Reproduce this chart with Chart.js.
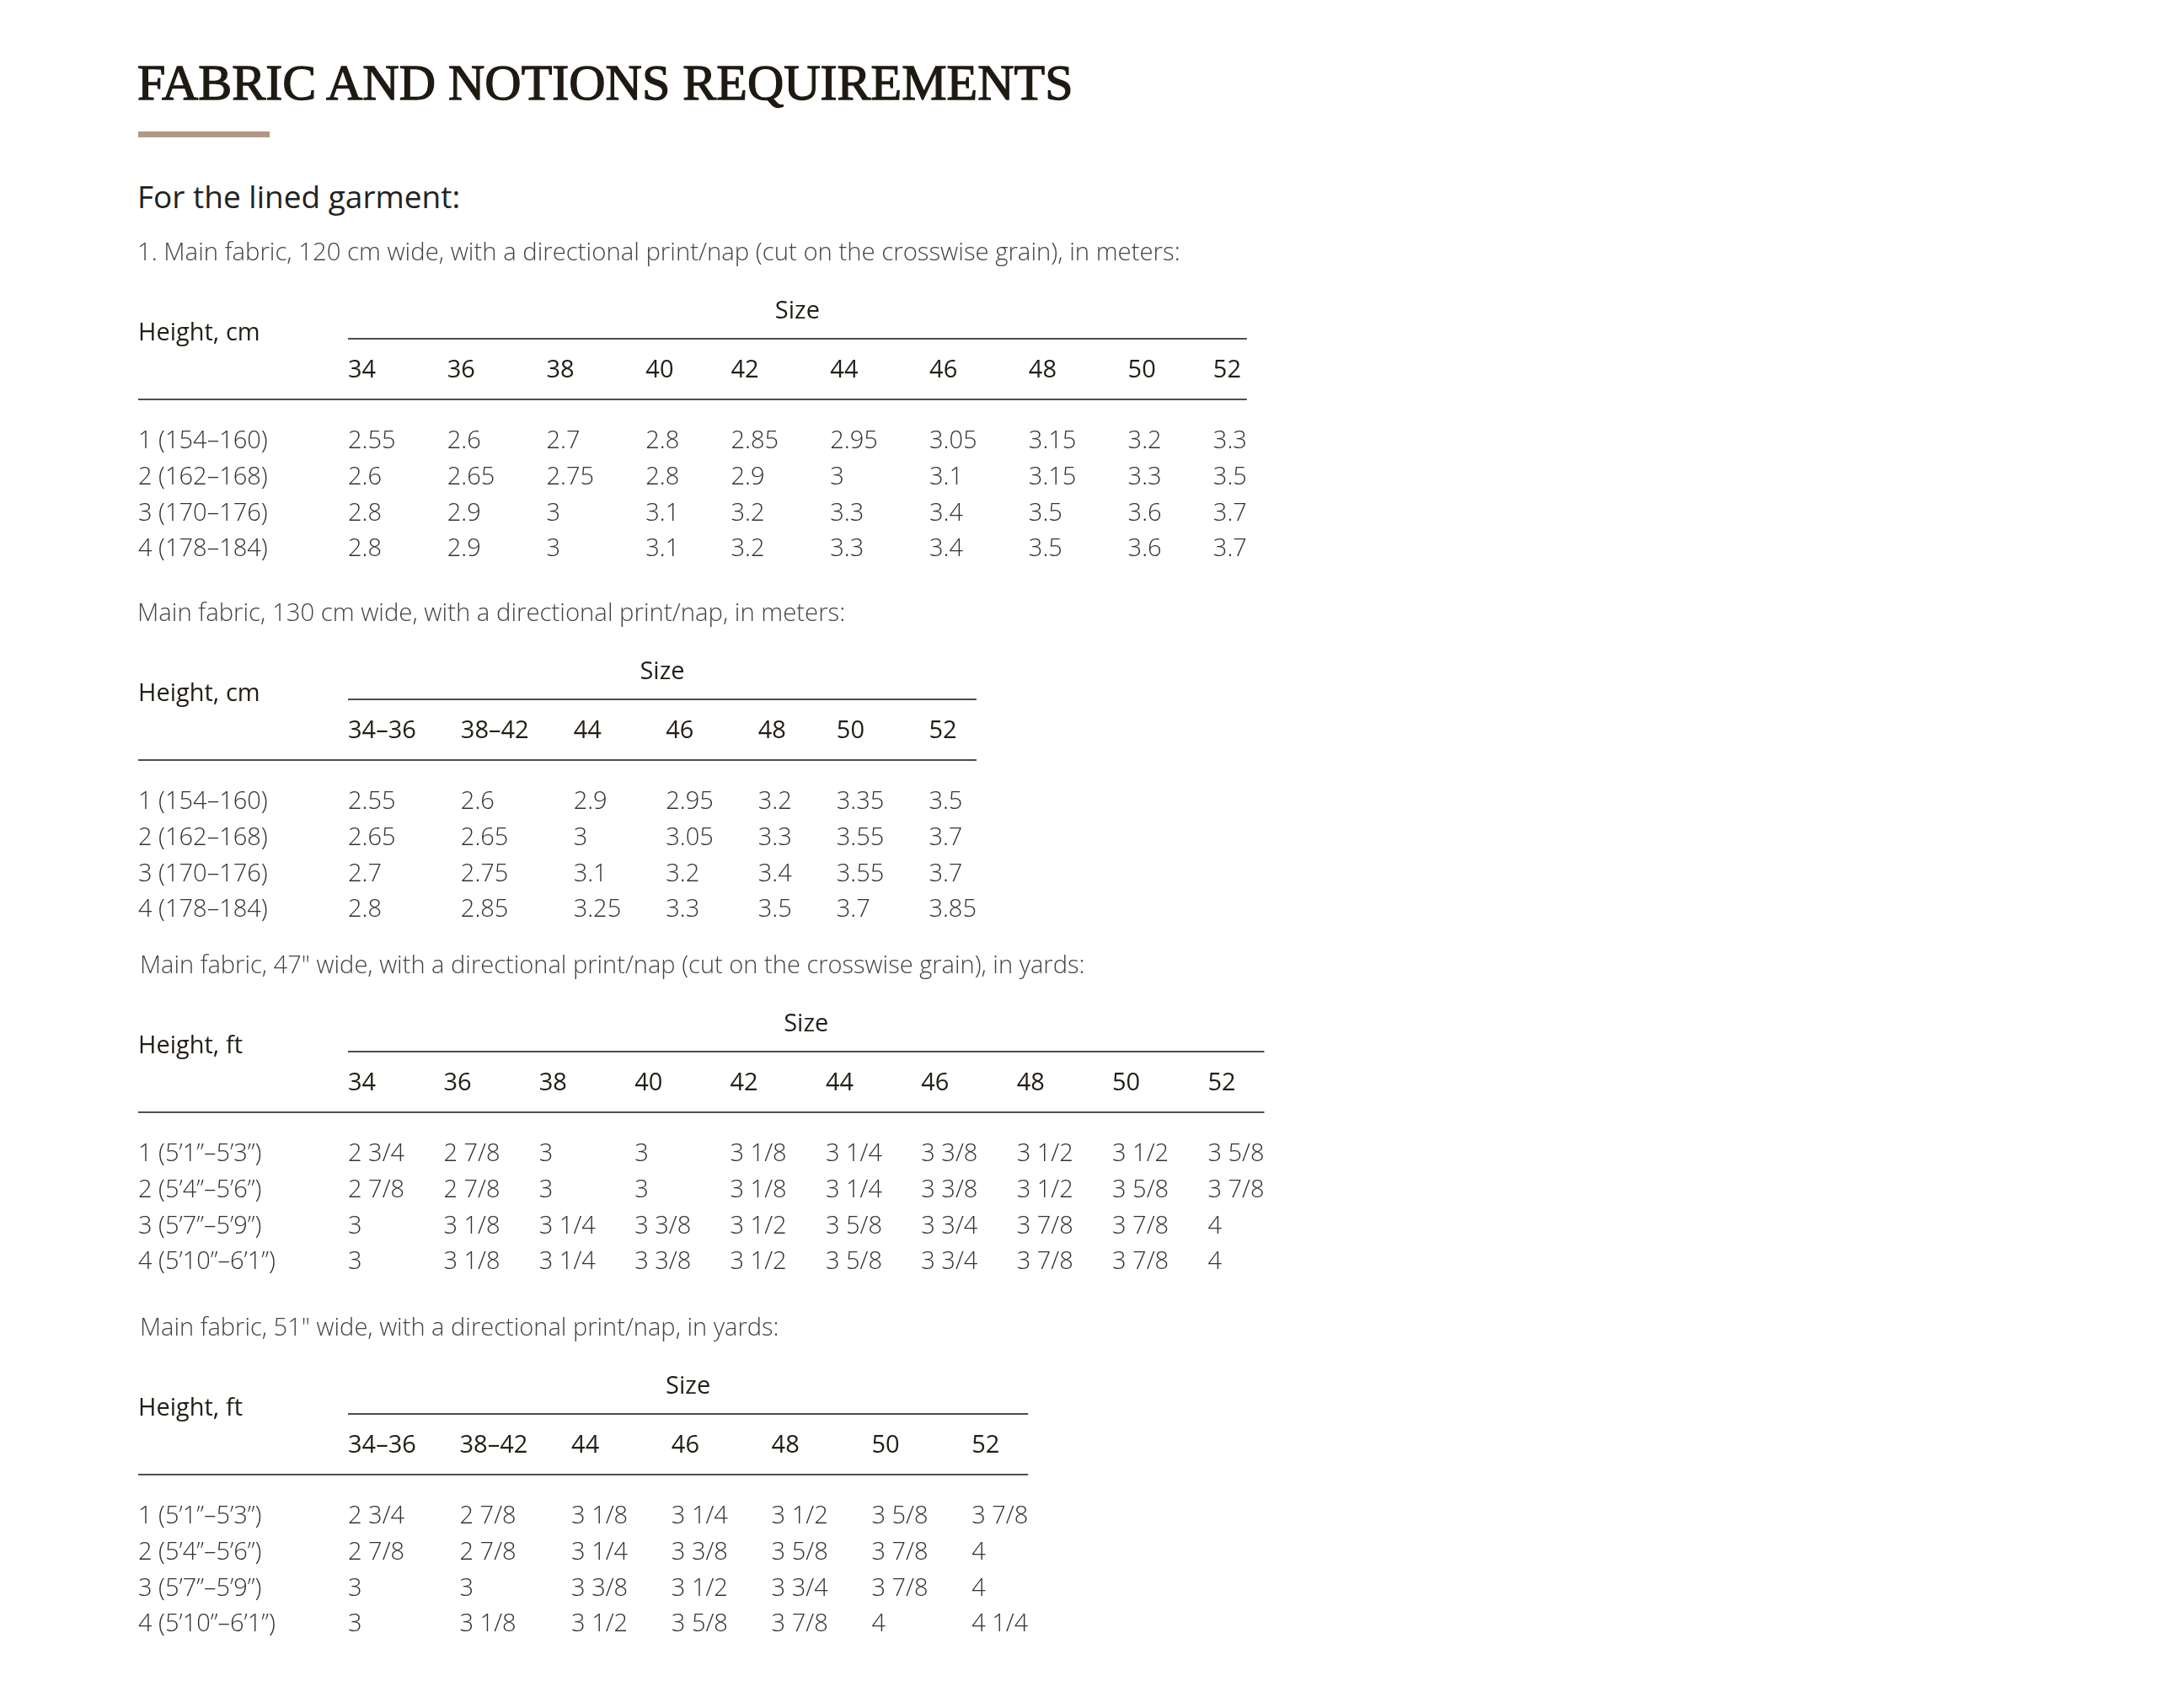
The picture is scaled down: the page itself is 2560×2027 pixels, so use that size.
<!DOCTYPE html>
<html>

<head>
    <title>Fabric and Notions Requirements</title>
    <script src="https://cdn.jsdelivr.net/npm/chart.js"></script>
    <style>
        body {
            margin: 0;
            background: #fff;
            width: 2560px;
            height: 2027px;
            position: relative;
            overflow: hidden;
        }

        .abs {
            position: absolute;
            white-space: nowrap;
        }

        #title {
            left: 163px;
            top: 68px;
            font: 400 60px/60px 'Liberation Serif', serif;
            color: #1e1a12;
            -webkit-text-stroke: 1.3px #1e1a12;
        }

        #bar {
            left: 164px;
            top: 156px;
            width: 156px;
            height: 7px;
            background: #b39785;
        }

        #sub {
            left: 163px;
            top: 214px;
            font: 400 37px/37px 'Open Sans', sans-serif;
            color: #222;
        }

        canvas {
            position: absolute;
            left: 0;
        }
    </style>
</head>

<body>
    <div class="abs" id="title">FABRIC AND NOTIONS REQUIREMENTS</div>
    <div class="abs" id="bar"></div>
    <div class="abs" id="sub">For the lined garment:</div>

    <canvas id="t1" width="1600" height="400" style="top:278px"></canvas>
    <canvas id="t2" width="1600" height="400" style="top:706px"></canvas>
    <canvas id="t3" width="1600" height="400" style="top:1124px"></canvas>
    <canvas id="t4" width="1600" height="400" style="top:1554px"></canvas>

    <script>
        // --- data ---
        const sizes = ['34', '36', '38', '40', '42', '44', '46', '48', '50', '52'];
        const sizesGrouped = ['34–36', '38–42', '44', '46', '48', '50', '52'];
        const heightsCm = ['1 (154–160)', '2 (162–168)', '3 (170–176)', '4 (178–184)'];
        const heightsFt = ['1 (5’1”–5’3”)', '2 (5’4”–5’6”)', '3 (5’7”–5’9”)', '4 (5’10”–6’1”)'];

        // meters, 120 cm wide
        const fabric120 = [
            [2.55, 2.6, 2.7, 2.8, 2.85, 2.95, 3.05, 3.15, 3.2, 3.3],
            [2.6, 2.65, 2.75, 2.8, 2.9, 3, 3.1, 3.15, 3.3, 3.5],
            [2.8, 2.9, 3, 3.1, 3.2, 3.3, 3.4, 3.5, 3.6, 3.7],
            [2.8, 2.9, 3, 3.1, 3.2, 3.3, 3.4, 3.5, 3.6, 3.7]
        ];
        // meters, 130 cm wide
        const fabric130 = [
            [2.55, 2.6, 2.9, 2.95, 3.2, 3.35, 3.5],
            [2.65, 2.65, 3, 3.05, 3.3, 3.55, 3.7],
            [2.7, 2.75, 3.1, 3.2, 3.4, 3.55, 3.7],
            [2.8, 2.85, 3.25, 3.3, 3.5, 3.7, 3.85]
        ];
        // yards, 47" wide
        const fabric47 = [
            ['2 3/4', '2 7/8', '3', '3', '3 1/8', '3 1/4', '3 3/8', '3 1/2', '3 1/2', '3 5/8'],
            ['2 7/8', '2 7/8', '3', '3', '3 1/8', '3 1/4', '3 3/8', '3 1/2', '3 5/8', '3 7/8'],
            ['3', '3 1/8', '3 1/4', '3 3/8', '3 1/2', '3 5/8', '3 3/4', '3 7/8', '3 7/8', '4'],
            ['3', '3 1/8', '3 1/4', '3 3/8', '3 1/2', '3 5/8', '3 3/4', '3 7/8', '3 7/8', '4']
        ];
        // yards, 51" wide
        const fabric51 = [
            ['2 3/4', '2 7/8', '3 1/8', '3 1/4', '3 1/2', '3 5/8', '3 7/8'],
            ['2 7/8', '2 7/8', '3 1/4', '3 3/8', '3 5/8', '3 7/8', '4'],
            ['3', '3', '3 3/8', '3 1/2', '3 3/4', '3 7/8', '4'],
            ['3', '3 1/8', '3 1/2', '3 5/8', '3 7/8', '4', '4 1/4']
        ];

        // --- look ---
        const HEAD_FONT = "400 29px 'Open Sans'";
        const CELL_FONT = "300 29px 'Open Sans'";
        const CAP = 0.357 * 29;   // half cap height, to centre digits on a row
        const LEFT = 164;         // row label column
        const COL0 = 413;         // first size column
        const ROW_TOP = 244;      // first data row (canvas coords)
        const ROW_BOTTOM = 372;   // last data row

        function buildTable(id, caption, corner, cols, heights, rows, pad, captionX, captionSize) {
            const canvas = document.getElementById(id);
            const c = canvas.getContext('2d');

            // auto table layout: each column as wide as its widest text plus padding
            const starts = [];
            let acc = 0, lastW = 0;
            cols.forEach((s, i) => {
                c.font = HEAD_FONT;
                let w = c.measureText(s).width;
                c.font = CELL_FONT;
                rows.forEach(r => { w = Math.max(w, c.measureText(String(r[i])).width); });
                starts.push(acc);
                lastW = w;
                acc += w + pad;
            });
            const span = starts[starts.length - 1];

            const tableText = {
                id: 'tableText',
                afterDatasetsDraw(chart) {
                    const ctx = chart.ctx;
                    const x = chart.scales.x;
                    const x0 = x.getPixelForValue(0);
                    const xEnd = x.getPixelForValue(span) + lastW;
                    ctx.save();
                    ctx.textBaseline = 'alphabetic';

                    ctx.font = "300 " + captionSize + "px 'Open Sans'";
                    ctx.fillStyle = '#444';
                    ctx.fillText(caption, captionX, 31);

                    ctx.font = HEAD_FONT;
                    ctx.fillStyle = '#221e16';
                    ctx.textAlign = 'center';
                    ctx.fillText('Size', (x0 + xEnd) / 2, 90 + CAP);
                    ctx.textAlign = 'left';
                    ctx.fillText(corner, LEFT, 116 + CAP);
                    cols.forEach((s, i) => ctx.fillText(s, x.getPixelForValue(starts[i]), 159.5 + CAP));

                    ctx.strokeStyle = '#4e4e4e';
                    ctx.lineWidth = 2;
                    ctx.beginPath();
                    ctx.moveTo(x0, 124);
                    ctx.lineTo(xEnd, 124);
                    ctx.moveTo(LEFT, 196);
                    ctx.lineTo(xEnd, 196);
                    ctx.stroke();

                    // row labels on the category axis positions
                    const y = chart.scales.y;
                    ctx.font = CELL_FONT;
                    ctx.fillStyle = '#333';
                    heights.forEach((h, i) => ctx.fillText(h, LEFT, y.getPixelForValue(i) + CAP));

                    // cells
                    chart.data.datasets.forEach((ds, di) => {
                        chart.getDatasetMeta(di).data.forEach((pt, i) => {
                            ctx.fillText(String(ds.data[i].v), pt.x, pt.y + CAP);
                        });
                    });
                    ctx.restore();
                }
            };

            new Chart(canvas, {
                type: 'scatter',
                data: {
                    datasets: rows.map((r, ri) => ({
                        data: r.map((v, ci) => ({ x: starts[ci], y: heights[ri], v: v })),
                        pointRadius: 0
                    }))
                },
                options: {
                    responsive: false,
                    animation: false,
                    events: [],
                    layout: {
                        padding: {
                            left: COL0,
                            right: canvas.width - COL0 - span,
                            top: ROW_TOP,
                            bottom: canvas.height - ROW_BOTTOM
                        }
                    },
                    plugins: {
                        legend: { display: false },
                        tooltip: { enabled: false }
                    },
                    scales: {
                        x: { type: 'linear', display: false, min: 0, max: span },
                        y: { type: 'category', labels: heights, display: false, offset: false }
                    }
                },
                plugins: [tableText]
            });
        }

        buildTable('t1', '1. Main fabric, 120 cm wide, with a directional print/nap (cut on the crosswise grain), in meters:',
            'Height, cm', sizes, heightsCm, fabric120, 61.2, 163, 29.3);
        buildTable('t2', 'Main fabric, 130 cm wide, with a directional print/nap, in meters:',
            'Height, cm', sizesGrouped, heightsCm, fabric130, 53, 163, 29.3);
        buildTable('t3', 'Main fabric, 47" wide, with a directional print/nap (cut on the crosswise grain), in yards:',
            'Height, ft', sizes, heightsFt, fabric47, 46.3, 166, 29.05);
        buildTable('t4', 'Main fabric, 51" wide, with a directional print/nap, in yards:',
            'Height, ft', sizesGrouped, heightsFt, fabric51, 51.7, 166, 29.05);
    </script>
</body>

</html>
